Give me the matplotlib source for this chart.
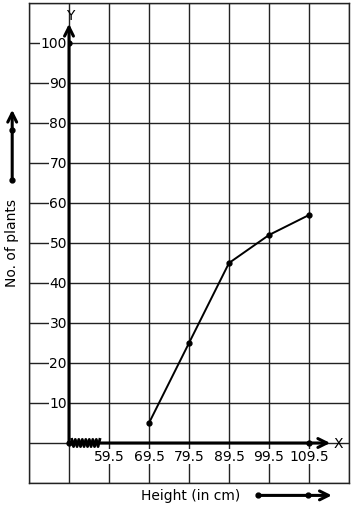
import numpy as np
import matplotlib.pyplot as plt

# data
heights = [69.5, 79.5, 89.5, 99.5, 109.5]
plants = [5, 25, 45, 52, 57]
xtick_vals = [59.5, 69.5, 79.5, 89.5, 99.5, 109.5]
ytick_vals = [10, 20, 30, 40, 50, 60, 70, 80, 90, 100]

fig = plt.figure(figsize=(3.54, 5.10), dpi=100)
ax = fig.add_axes([29/354, 26/510, 320/354, 480/510])
ax.set_xlim(39.5, 119.5)
ax.set_ylim(-10, 110)
ax.set_xticks(np.arange(39.5, 120, 10))
ax.set_yticks(np.arange(-10, 111, 10))
ax.grid(True, color='#222222', lw=1)
ax.tick_params(length=0, labelbottom=False, labelleft=False)
for s in ax.spines.values():
    s.set_color('#222222')
    s.set_linewidth(1)

box = dict(facecolor='white', edgecolor='none', pad=0.5)
for v in ytick_vals:
    ax.text(49.0, v, str(v), ha='right', va='center', fontsize=10, bbox=box)
for v in xtick_vals:
    ax.text(v, -3.3, str(v), ha='center', va='center', fontsize=10, bbox=box)

# axes with open arrowheads
arrow = dict(arrowstyle='->', lw=2.2, color='black', mutation_scale=16,
             shrinkA=0, shrinkB=0)
ax.annotate('', xy=(49.5, 104.8), xytext=(49.5, 0), arrowprops=arrow)
ax.annotate('', xy=(114.8, 0), xytext=(49.5, 0), arrowprops=arrow)
ax.text(49.9, 107.0, 'Y', ha='center', va='center', fontsize=10)
ax.text(116.8, 0, 'X', ha='center', va='center', fontsize=10)
ax.plot([49.5, 49.5, 109.5], [0, 100, 0], 'ko', ms=3.5)

# break zigzag near origin
zx = np.linspace(50.2, 57.2, 17)
zy = np.where(np.arange(17) % 2 == 0, 0.9, -0.9)
ax.plot(zx, zy, color='black', lw=2)

# the curve
ax.plot(heights, plants, color='black', lw=1.4, marker='o', ms=3.5)

# labels outside the grid
ax.text(35.3, 50.3, 'No. of plants', rotation=90, ha='center', va='center',
        fontsize=10, clip_on=False)
ax.annotate('', xy=(35.3, 83.3), xytext=(35.3, 65.7),
            arrowprops=arrow, annotation_clip=False)
ax.plot([35.3, 35.3], [65.7, 78.3], 'ko', ms=3.5, clip_on=False)

ax.text(79.8, -13.1, 'Height (in cm)', ha='center', va='center',
        fontsize=10, clip_on=False)
ax.annotate('', xy=(115.2, -13.1), xytext=(96.8, -13.1),
            arrowprops=arrow, annotation_clip=False)
ax.plot([96.8, 109.3], [-13.1, -13.1], 'ko', ms=3.5, clip_on=False)

fig.savefig('out.png', dpi=100)
